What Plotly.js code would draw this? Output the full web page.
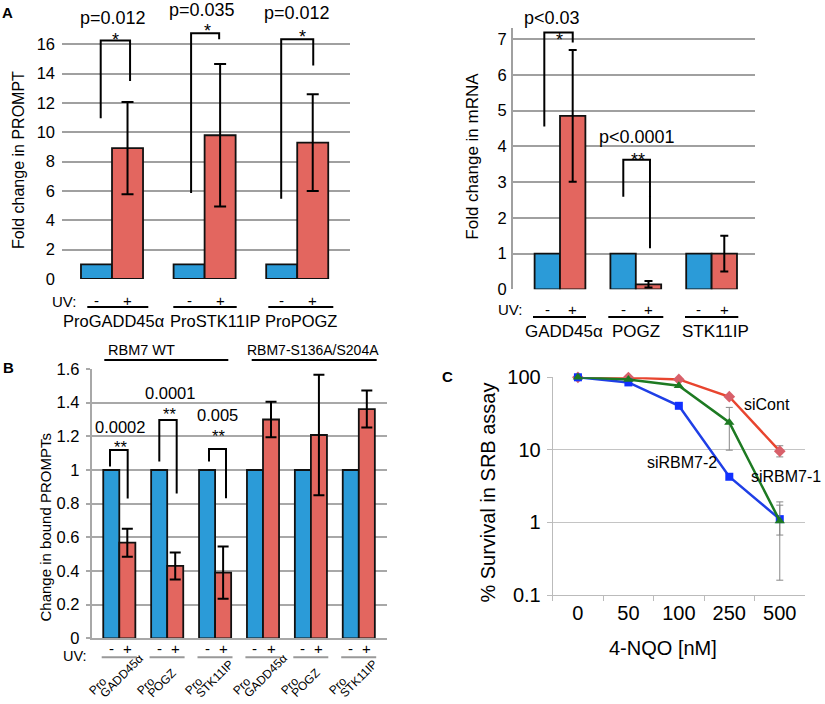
<!DOCTYPE html>
<html><head><meta charset="utf-8">
<script src="https://cdn.plot.ly/plotly-3.0.1.min.js"></script>
<style>html,body{margin:0;padding:0;background:#fff}#chart{width:825px;height:704px}</style>
</head><body><div id="chart"></div>
<script>
// ---------------- DATA ----------------
// Panel A (left): PROMPT fold change
const promptGenes = ['ProGADD45α', 'ProSTK11IP', 'ProPOGZ'];
const promptNoUV = [1, 1, 1];
const promptUV = [8.92, 9.8, 9.3];
const promptUVErr = [3.15, 4.85, 3.3];
const promptPvals = ['p=0.012', 'p=0.035', 'p=0.012'];
const promptStars = ['*', '*', '*'];

// Panel A (right): mRNA fold change
const mrnaGenes = ['GADD45α', 'POGZ', 'STK11IP'];
const mrnaNoUV = [1, 1, 1];
const mrnaUV = [4.85, 0.14, 1.0];
const mrnaUVErr = [1.84, 0.09, 0.5];
const mrnaPvals = ['p<0.03', 'p<0.0001'];
const mrnaStars = ['*', '**'];

// Panel B: bound PROMPTs
const boundGenes = ['GADD45α', 'POGZ', 'STK11IP', 'GADD45α', 'POGZ', 'STK11IP'];
const boundNoUV = [1, 1, 1, 1, 1, 1];
const boundUV = [0.568, 0.43, 0.39, 1.30, 1.208, 1.362];
const boundUVErr = [0.083, 0.08, 0.155, 0.105, 0.358, 0.11];
const boundPvals = ['0.0002', '0.0001', '0.005'];
const boundConstructs = ['RBM7 WT', 'RBM7-S136A/S204A'];
const boundTicks = ['0', '0.2', '0.4', '0.6', '0.8', '1', '1.2', '1.4', '1.6'];

// Panel C: survival
const doses = ['0', '50', '100', '250', '500'];
const siCont = [100, 99, 93.5, 54, 9.6];
const siContErrUp = [NaN, NaN, NaN, NaN, 1.8];
const siContErrDown = [NaN, NaN, NaN, NaN, 1.6];
const siRBM7_1 = [100, 93.5, 76.4, 23.9, 1.05];
const siRBM7_1ErrUp = [NaN, NaN, NaN, 14.6, 0.87];
const siRBM7_1ErrDown = [NaN, NaN, NaN, 14.0, 0.89];
const siRBM7_2 = [100, 85, 40.5, 4.26, 1.11];
const siRBM7_2ErrUp = [NaN, NaN, NaN, NaN, 0.62];
const siRBM7_2ErrDown = [NaN, NaN, NaN, NaN, 0.44];

// ---------------- STYLE / HELPERS ----------------
const W = 825, H = 704;
const F = 'Liberation Sans, Arial, Helvetica, sans-serif';
const BLUE = '#2b9bd8', RED = '#e3665f';
const PX = p => p / W, PY = p => 1 - p / H;
const idx = a => a.map((_, i) => i);
const HALF = 0.1675; // offset of each bar centre from its group centre (axis units)

function T(x, y, text, size, extra) {
  return Object.assign({
    xref: 'paper', yref: 'paper', x: PX(x), y: PY(y), text: text, showarrow: false,
    xanchor: 'center', yanchor: 'middle', font: {family: F, size: size, color: '#000'}
  }, extra || {});
}
function line(x0, y0, x1, y1, color, width) {
  return {type: 'line', xref: 'paper', yref: 'paper', x0: PX(x0), y0: PY(y0), x1: PX(x1), y1: PY(y1),
    line: {color: color || '#000', width: width || 2}};
}
function bracket(xa, ya, xl, xr, yl, yt, yr) {
  return {type: 'path', xref: xa, yref: ya,
    path: `M${xl},${yl} L${xl},${yt} L${xr},${yt} L${xr},${yr}`,
    line: {color: '#000', width: 2}};
}
const barLine = {color: '#111', width: 1.8};

// ---------------- TRACES ----------------
const traces = [
  {type: 'bar', x: idx(promptGenes), y: promptNoUV, xaxis: 'x', yaxis: 'y', name: 'UV -',
   marker: {color: BLUE, line: barLine}},
  {type: 'bar', x: idx(promptGenes), y: promptUV, xaxis: 'x', yaxis: 'y', name: 'UV +',
   marker: {color: RED, line: barLine},
   error_y: {type: 'data', array: promptUVErr, color: '#000', thickness: 2, width: 6}},

  {type: 'bar', x: idx(mrnaGenes), y: mrnaNoUV, xaxis: 'x2', yaxis: 'y2', name: 'UV -',
   marker: {color: BLUE, line: barLine}},
  {type: 'bar', x: idx(mrnaGenes), y: mrnaUV, xaxis: 'x2', yaxis: 'y2', name: 'UV +',
   marker: {color: RED, line: barLine},
   error_y: {type: 'data', array: mrnaUVErr, color: '#000', thickness: 2, width: 4}},

  {type: 'bar', x: idx(boundGenes), y: boundNoUV, xaxis: 'x3', yaxis: 'y3', name: 'UV -',
   marker: {color: BLUE, line: barLine}},
  {type: 'bar', x: idx(boundGenes), y: boundUV, xaxis: 'x3', yaxis: 'y3', name: 'UV +',
   marker: {color: RED, line: barLine},
   error_y: {type: 'data', array: boundUVErr, color: '#000', thickness: 2, width: 5.5}},

  {type: 'scatter', mode: 'lines+markers', x: doses, y: siCont, xaxis: 'x4', yaxis: 'y4', name: 'siCont',
   cliponaxis: false, line: {color: '#e8452f', width: 2.5},
   marker: {symbol: 'diamond', size: 9, color: '#d8606a'},
   error_y: {type: 'data', array: siContErrUp, arrayminus: siContErrDown, color: '#888', thickness: 1, width: 3.5}},
  {type: 'scatter', mode: 'lines+markers', x: doses, y: siRBM7_2, xaxis: 'x4', yaxis: 'y4', name: 'siRBM7-2',
   cliponaxis: false, line: {color: '#1f3fe6', width: 2.5},
   marker: {symbol: 'square', size: 8, color: '#1030ff'},
   error_y: {type: 'data', array: siRBM7_2ErrUp, arrayminus: siRBM7_2ErrDown, color: '#888', thickness: 1, width: 3.5}},
  {type: 'scatter', mode: 'lines+markers', x: doses, y: siRBM7_1, xaxis: 'x4', yaxis: 'y4', name: 'siRBM7-1',
   cliponaxis: false, line: {color: '#1d7a22', width: 2.5},
   marker: {symbol: 'triangle-up', size: 9, color: '#1d7a22'},
   error_y: {type: 'data', array: siRBM7_1ErrUp, arrayminus: siRBM7_1ErrDown, color: '#888', thickness: 1, width: 3.5}}
];

// ---------------- ANNOTATIONS ----------------
const ann = [];
ann.push(T(7, 12, '<b>A</b>', 15), T(8.5, 367.5, '<b>B</b>', 15), T(447, 376, '<b>C</b>', 15));

// A left
ann.push(T(18, 160, 'Fold change in PROMPT', 16, {textangle: -90}));
[[113, 18.5], [201.7, 10], [296.7, 13.3]].forEach((p, i) => ann.push(T(p[0], p[1], promptPvals[i], 18)));
[[115, 40], [207.3, 31], [302.7, 37.3]].forEach((p, i) => ann.push(T(p[0], p[1], promptStars[i], 18)));
ann.push(T(64, 301.7, 'UV:', 15));
promptGenes.forEach((g, i) => {
  ann.push(Object.assign(T(0, 301, '-', 15), {xref: 'x', x: i - HALF}));
  ann.push(Object.assign(T(0, 301, '+', 15), {xref: 'x', x: i + HALF}));
});
[114, 215, 301].forEach((x, i) => ann.push(T(x, 320.5, promptGenes[i], 16.5)));

// A right
ann.push(T(473, 156.7, 'Fold change in mRNA', 17, {textangle: -90}));
ann.push(T(551.7, 17.5, mrnaPvals[0], 18), T(559, 39.5, mrnaStars[0], 18));
ann.push(T(637.3, 136.7, mrnaPvals[1], 18), T(638, 160, mrnaStars[1], 18));
ann.push(T(510, 309, 'UV:', 15));
mrnaGenes.forEach((g, i) => {
  ann.push(Object.assign(T(0, 309, '-', 15), {xref: 'x2', x: i - HALF}));
  ann.push(Object.assign(T(0, 309, '+', 15), {xref: 'x2', x: i + HALF}));
});
[564, 636, 715].forEach((x, i) => ann.push(T(x, 331, mrnaGenes[i], 17)));

// B
ann.push(T(45, 527.5, 'Change in bound PROMPTs', 15, {textangle: -90}));
ann.push(T(141.7, 350, boundConstructs[0], 14.5), T(313.3, 350, boundConstructs[1], 14));
[[120, 427], [170, 393.3], [217.3, 415]].forEach((p, i) => ann.push(T(p[0], p[1], boundPvals[i], 16.5)));
[[120.7, 447], [169, 414], [218.3, 435.5]].forEach(p => ann.push(T(p[0], p[1], '**', 16.5)));
ann.push(T(75, 655.5, 'UV:', 14.5));
boundGenes.forEach((g, i) => {
  ann.push(Object.assign(T(0, 648, '-', 15), {xref: 'x3', x: i - HALF}));
  ann.push(Object.assign(T(0, 648, '+', 15), {xref: 'x3', x: i + HALF}));
  ann.push(Object.assign(T(0, 700, 'Pro', 12, {textangle: -45, xanchor: 'left', yanchor: 'bottom'}),
    {xref: 'x3', x: i, xshift: -36}));
  ann.push(Object.assign(T(0, 703, g, 12, {textangle: -45, xanchor: 'left', yanchor: 'bottom'}),
    {xref: 'x3', x: i, xshift: -25}));
});

// C
ann.push(T(488.3, 492.3, '% Survival in SRB assay', 20, {textangle: -90}));
ann.push(T(663.3, 648.3, '4-NQO [nM]', 20));
ann.push(T(766.7, 404, 'siCont', 16), T(681.7, 462.7, 'siRBM7-2', 16), T(823, 476.7, 'siRBM7-1', 16, {xanchor: 'right'}));

// ---------------- SHAPES ----------------
const shapes = [
  bracket('x', 'y', -0.122, 0.195, 10.96, 16.25, 13.5),
  bracket('x', 'y', 0.854, 1.157, 5.86, 16.75, 16.34),
  bracket('x', 'y', 1.827, 2.173, 5.47, 16.34, 14.55),
  bracket('x2', 'y2', -0.207, 0.168, 4.55, 7.18, 6.9),
  bracket('x2', 'y2', 0.835, 1.187, 2.59, 3.62, 1.15),
  bracket('x3', 'y3', -0.194, 0.175, 1.02, 1.119, 0.83),
  bracket('x3', 'y3', 0.835, 1.198, 1.05, 1.297, 0.861),
  bracket('x3', 'y3', 1.873, 2.228, 1.05, 1.125, 0.832),
  line(87.3, 307, 148.3, 307), line(173.3, 307, 236.7, 307), line(268.3, 307, 333.3, 307),
  line(533, 317, 586, 317), line(608.3, 317, 663.3, 317), line(685, 317, 738.3, 317),
  line(104.3, 360, 228.3, 360), line(251.7, 360, 376.7, 360)
];
boundGenes.forEach((g, i) => {
  const c = 119.3 + 47.9 * i;
  shapes.push(line(c - 17.6, 657.3, c + 17.4, 657.3, '#999', 2));
});

// ---------------- LAYOUT ----------------
const tf = s => ({family: F, size: s, color: '#000'});
const layout = {
  width: W, height: H, margin: {l: 0, r: 0, t: 0, b: 0},
  paper_bgcolor: '#fff', plot_bgcolor: '#fff', showlegend: false,
  font: {family: F, color: '#000'},
  barmode: 'group', bargap: 0.33, bargroupgap: 0,
  xaxis: {domain: [PX(62), PX(350)], range: [-0.54, 2.57], visible: false, anchor: 'y'},
  yaxis: {domain: [PY(279), PY(29.6)], range: [0, 17], anchor: 'x',
    tickvals: [0, 2, 4, 6, 8, 10, 12, 14, 16], ticks: '', showline: false, zeroline: false,
    gridcolor: '#a0a0a0', gridwidth: 2, tickfont: tf(16.5), ticklabelstandoff: 6},
  xaxis2: {domain: [PX(513), PX(755)], range: [-0.62, 2.5726], visible: false, anchor: 'y2'},
  yaxis2: {domain: [PY(289.3), PY(28.3)], range: [0, 7.3], anchor: 'x2',
    tickvals: [0, 1, 2, 3, 4, 5, 6, 7], ticks: '', showline: true, linecolor: '#a0a0a0', linewidth: 2,
    zeroline: false, gridcolor: '#a0a0a0', gridwidth: 2, tickfont: tf(16.5), ticklabelstandoff: 1},
  xaxis3: {domain: [PX(91.7), PX(386.7)], range: [-0.5762, 5.5825], anchor: 'y3',
    showticklabels: false, showgrid: false, zeroline: false, showline: true, linecolor: '#a8a8a8', linewidth: 2, ticks: ''},
  yaxis3: {domain: [PY(638.3), PY(369)], range: [0, 1.6], anchor: 'x3',
    tickvals: [0, 0.2, 0.4, 0.6, 0.8, 1, 1.2, 1.4, 1.6], ticktext: boundTicks,
    ticks: 'outside', ticklen: 4, tickcolor: '#a8a8a8', tickwidth: 2,
    showline: true, linecolor: '#a8a8a8', linewidth: 2, zeroline: false,
    gridcolor: '#a8a8a8', gridwidth: 2, tickfont: tf(16.5), ticklabelstandoff: 3},
  xaxis4: {domain: [PX(552.7), PX(805)], type: 'category', range: [-0.5, 4.5], anchor: 'y4',
    showgrid: false, showline: true, linecolor: '#bbb', linewidth: 1, ticks: 'outside', tickson: 'boundaries',
    ticklen: 5, tickcolor: '#bbb', tickfont: tf(20)},
  yaxis4: {domain: [PY(595), PY(377.3)], type: 'log', range: [-1, 2], anchor: 'x4',
    tickvals: [0.1, 1, 10, 100], ticktext: ['0.1', '1', '10', '100'],
    showline: true, linecolor: '#bbb', linewidth: 1, ticks: 'outside', ticklen: 5, tickcolor: '#bbb',
    gridcolor: '#c4c4c4', gridwidth: 1, zeroline: false, tickfont: tf(20), ticklabelstandoff: 2},
  annotations: ann,
  shapes: shapes
};

Plotly.newPlot('chart', traces, layout, {staticPlot: true, displayModeBar: false});
</script>
</body></html>
